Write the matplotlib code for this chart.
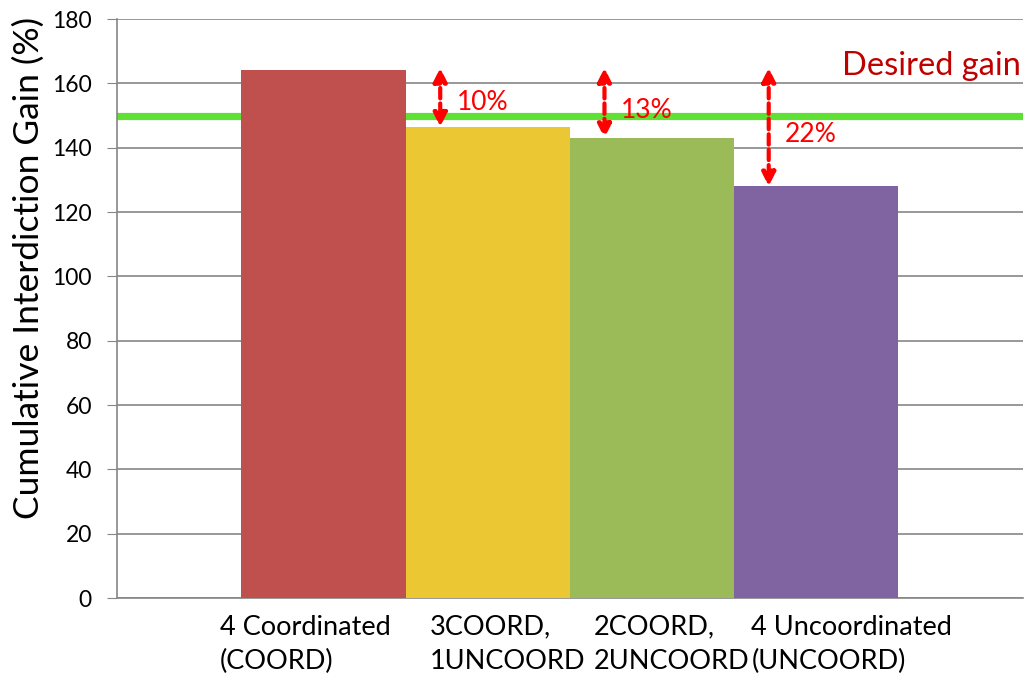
import matplotlib.pyplot as plt

# Values
categories = ["4 Coordinated\n(COORD)", "3COORD,\n1UNCOORD", "2COORD,\n2UNCOORD", "4 Uncoordinated\n(UNCOORD)"]
gains = [164, 146.5, 143, 128]
bar_colors = ["#C0504D", "#EBC833", "#9BBB59", "#8064A2"]
desired_gain = 150
gap_labels = ["10%", "13%", "22%"]
gap_label_y = [154, 151.5, 144]

# the category labels in the original are left aligned and sit a bit off centre
label_shift = [-0.633, -0.355, -0.357, -0.395]

plt.rcParams["font.family"] = ["Lato", "DejaVu Sans"]

fig = plt.figure(figsize=(10.28, 6.84), dpi=100)
ax = fig.add_axes([0.1138, 0.1257, 0.8813, 0.8465])

x = list(range(len(categories)))
ax.bar(x, gains, width=1.0, color=bar_colors, zorder=3)

# desired gain line sits behind the bars
ax.axhline(desired_gain, color="#5EE035", lw=5.2, zorder=2)
ax.text(0.998, 165.5, "Desired gain", transform=ax.get_yaxis_transform(),
        ha="right", va="center", color="#C00000", fontsize=23.5)

# dashed double arrows from the coordinated bar height down to each other bar
for i in range(1, len(gains)):
    ax_x = x[i] - 0.29
    ax.annotate("", xy=(ax_x, gains[i]), xytext=(ax_x, gains[0] + 0.8),
                arrowprops=dict(arrowstyle="<|-|>", color="red", lw=3.0,
                                linestyle=(0, (2.5, 1.2)), mutation_scale=20,
                                shrinkA=0, shrinkB=0),
                zorder=5)
    ax.text(ax_x + 0.1, gap_label_y[i - 1], gap_labels[i - 1], color="red",
            fontsize=19, va="center", ha="left", zorder=5)

ax.set_xlim(-1.258, 4.258)
ax.set_ylim(0, 180)
ax.set_yticks(range(0, 181, 20))
ax.set_xticks([xi + s for xi, s in zip(x, label_shift)])
ax.set_xticklabels(categories, fontsize=19.5, ha="left", multialignment="left",
                   linespacing=1.45)
ax.tick_params(axis="x", length=0, pad=12)
ax.tick_params(axis="y", length=7, color="#868686", labelsize=16.5, pad=11)

ax.grid(axis="y", color="#868686", lw=1.2, zorder=0)
ax.set_axisbelow(True)
for side in ["top", "right"]:
    ax.spines[side].set_visible(False)
for side in ["left", "bottom"]:
    ax.spines[side].set_color("#868686")
    ax.spines[side].set_linewidth(1.2)

ax.set_ylabel("Cumulative Interdiction Gain (%)", fontsize=25.5)
ax.yaxis.set_label_coords(-0.08, 0.57)

fig.savefig("out.png")
